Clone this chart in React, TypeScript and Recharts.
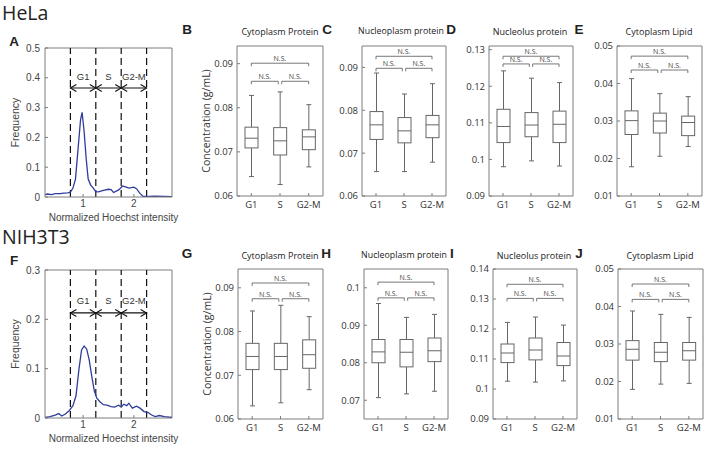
import React from "react"
import { Bar, ComposedChart, Line, ReferenceLine, Scatter, XAxis, YAxis } from "recharts"

// cell cycle gates on the Hoechst histogram
const hoechstGates = [0.75, 1.25, 1.75, 2.25]
const gateLabels = ["G1", "S", "G2-M"]

const helaHoechst = [0.25, 0.3, 0.38, 0.45, 0.55, 0.62, 0.7, 0.75, 0.8, 0.85, 0.9, 0.95, 0.98, 1.02, 1.06, 1.1, 1.15, 1.2, 1.25, 1.3, 1.4, 1.5, 1.55, 1.6, 1.7, 1.78, 1.85, 1.9, 2.0, 2.05, 2.12, 2.18, 2.3, 2.4, 2.6, 2.75]
const helaFreq = [0.008, 0.01, 0.008, 0.011, 0.011, 0.013, 0.014, 0.016, 0.03, 0.06, 0.16, 0.26, 0.284, 0.22, 0.13, 0.06, 0.04, 0.03, 0.018, 0.017, 0.022, 0.026, 0.025, 0.015, 0.024, 0.037, 0.033, 0.03, 0.033, 0.028, 0.012, 0.002, 0.002, 0.003, 0.002, 0.001]

const nihHoechst = [0.25, 0.35, 0.45, 0.52, 0.58, 0.65, 0.72, 0.8, 0.86, 0.92, 0.97, 1.02, 1.07, 1.12, 1.17, 1.22, 1.27, 1.33, 1.4, 1.47, 1.55, 1.62, 1.7, 1.75, 1.8, 1.86, 1.9, 1.97, 2.05, 2.12, 2.2, 2.28, 2.35, 2.42, 2.5, 2.6, 2.75]
const nihFreq = [0.001, 0.003, 0.006, 0.009, 0.004, 0.008, 0.014, 0.025, 0.045, 0.1, 0.138, 0.146, 0.14, 0.118, 0.085, 0.055, 0.04, 0.033, 0.027, 0.026, 0.023, 0.022, 0.026, 0.022, 0.028, 0.025, 0.03, 0.02, 0.024, 0.02, 0.013, 0.011, 0.006, 0.003, 0.005, 0.003, 0.001]

const phases = ["G1", "S", "G2-M"]

// [min, q1, median, q3, max] for G1, S, G2-M
const helaCytoProtein = [
  [0.0644, 0.0709, 0.0731, 0.0756, 0.0828],
  [0.0626, 0.0693, 0.0725, 0.0755, 0.0836],
  [0.0666, 0.0705, 0.0734, 0.075, 0.0807],
]
const helaNucleoProtein = [
  [0.0657, 0.0732, 0.0766, 0.0797, 0.0887],
  [0.0657, 0.0724, 0.0752, 0.0783, 0.0838],
  [0.0679, 0.0736, 0.0766, 0.0788, 0.0862],
]
const helaNucleolusProtein = [
  [0.098, 0.1046, 0.109, 0.1137, 0.1242],
  [0.0996, 0.1062, 0.1094, 0.1128, 0.1222],
  [0.0982, 0.1046, 0.1096, 0.1132, 0.121],
]
const helaCytoLipid = [
  [0.0178, 0.0264, 0.0301, 0.0327, 0.0413],
  [0.0206, 0.0268, 0.03, 0.0321, 0.0373],
  [0.0232, 0.0261, 0.0296, 0.0313, 0.0365],
]
const nihCytoProtein = [
  [0.063, 0.0713, 0.0743, 0.0773, 0.0847],
  [0.0637, 0.0713, 0.0743, 0.0773, 0.086],
  [0.0667, 0.0716, 0.0747, 0.0781, 0.0834],
]
const nihNucleoProtein = [
  [0.0707, 0.08, 0.0829, 0.0862, 0.0958],
  [0.0717, 0.0789, 0.0828, 0.0862, 0.0921],
  [0.0724, 0.0803, 0.0832, 0.0866, 0.0929],
]
const nihNucleolusProtein = [
  [0.1026, 0.1088, 0.112, 0.115, 0.1222],
  [0.1023, 0.1097, 0.113, 0.117, 0.124],
  [0.1027, 0.1078, 0.111, 0.1155, 0.1213],
]
const nihCytoLipid = [
  [0.0179, 0.0257, 0.0286, 0.0309, 0.0388],
  [0.0193, 0.0253, 0.0278, 0.0304, 0.0379],
  [0.0195, 0.0257, 0.0282, 0.0304, 0.0371],
]

// N.S. bracket levels: [G1 vs G2-M, neighbours]
const helaCytoProteinNS = [0.0901, 0.086]
const helaNucleoProteinNS = [0.0926, 0.0898]
const helaNucleolusProteinNS = [0.1282, 0.1261]
const helaCytoLipidNS = [0.0473, 0.0436]
const nihCytoProteinNS = [0.0911, 0.0875]
const nihNucleoProteinNS = [0.1015, 0.0973]
const nihNucleolusProteinNS = [0.1349, 0.1302]
const nihCytoLipidNS = [0.046, 0.0419]

const AXIS = "#7c7c7c"
const BOX = "#666"
const TXT = "#333"

const boxRange = (d: any) => (d && d.stats ? [d.stats[0], d.stats[4]] : null)

function BoxShape(props: any) {
  const { x, y, width, height, payload } = props
  if (!payload || !payload.stats) return <g />
  const [lo, q1, med, q3, hi] = payload.stats
  const top = Math.min(y, y + height)
  const bottom = Math.max(y, y + height)
  const py = (v: number) => bottom - ((v - lo) / (hi - lo)) * (bottom - top)
  const cx = x + width / 2
  return (
    <g stroke={BOX} strokeWidth={1} fill="none">
      <line x1={cx} x2={cx} y1={py(hi)} y2={py(q3)} />
      <line x1={cx} x2={cx} y1={py(q1)} y2={py(lo)} />
      <line x1={cx - 2.5} x2={cx + 2.5} y1={py(hi)} y2={py(hi)} />
      <line x1={cx - 2.5} x2={cx + 2.5} y1={py(lo)} y2={py(lo)} />
      <rect x={x} y={py(q3)} width={width} height={py(q1) - py(q3)} fill="#fff" />
      <line x1={x} x2={x + width} y1={py(med)} y2={py(med)} />
    </g>
  )
}

const BracketEnd = (props: any) => (
  <line x1={props.cx} x2={props.cx} y1={props.cy} y2={props.cy + 3} stroke="#555" strokeWidth={0.8} />
)

const NSText = (props: any) => (
  <text x={props.cx} y={props.cy - 2} textAnchor="middle" fontSize={7} fill="#444">
    N.S.
  </text>
)

const ArrowHead = (props: any) => {
  const { cx, cy, payload } = props
  const d = payload && payload.dir ? payload.dir : 1
  return (
    <polyline
      points={`${cx + d * 6},${cy - 3.5} ${cx},${cy} ${cx + d * 6},${cy + 3.5}`}
      fill="none"
      stroke="#111"
      strokeWidth={1.1}
    />
  )
}

const PhaseLabel = (props: any) => (
  <text x={props.cx} y={props.cy} textAnchor="middle" dominantBaseline="central" fontSize={9.5} fill="#333">
    {props.payload ? props.payload.name : ""}
  </text>
)

function Label({ text, x, y, size, bold, anchor }: any) {
  return (
    <div
      style={{
        position: "absolute",
        left: x,
        top: y,
        transform: anchor === "left" ? "translate(0,-50%)" : "translate(-50%,-50%)",
        fontSize: size,
        lineHeight: `${size + 4}px`,
        fontWeight: bold ? 700 : 400,
        fontFamily: bold ? "Liberation Sans, Arial, sans-serif" : "Open Sans, sans-serif",
        color: "#222",
        whiteSpace: "nowrap",
      }}
    >
      {text}
    </div>
  )
}

function HistPanel({ xs, ys, yMax, yTicks, arrowY, labelY, left, top, width, height }: any) {
  const YW = 45
  const XH = 26
  const MT = 8
  const MR = 14
  const rows = xs.map((x: number, i: number) => ({ x, y: ys[i] }))
  const heads: any[] = []
  for (let i = 0; i < gateLabels.length; i++) {
    heads.push({ x: hoechstGates[i], y: arrowY, dir: 1 })
    heads.push({ x: hoechstGates[i + 1], y: arrowY, dir: -1 })
  }
  const names = gateLabels.map((name, i) => ({
    x: (hoechstGates[i] + hoechstGates[i + 1]) / 2,
    y: labelY,
    name,
  }))
  return (
    <div style={{ position: "absolute", left: left - YW, top: top - MT, fontFamily: "Liberation Sans, Arial, sans-serif" }}>
      <ComposedChart width={YW + width + MR} height={MT + height + XH} data={rows} margin={{ top: MT, right: MR, bottom: 0, left: 0 }}>
        <XAxis
          dataKey="x"
          type="number"
          domain={[0.25, 2.75]}
          ticks={[1, 2]}
          allowDataOverflow
          height={XH}
          stroke={AXIS}
          tickSize={-3}
          tickMargin={6}
          tick={{ fontSize: 10, fill: "#444" }}
          label={{ value: "Normalized Hoechst intensity", position: "insideBottom", offset: 2, dx: 5, fontSize: 10, fill: "#444" }}
        />
        <YAxis
          type="number"
          domain={[0, yMax]}
          ticks={yTicks}
          allowDataOverflow
          width={YW}
          stroke={AXIS}
          tickSize={-3}
          tickMargin={8}
          tick={{ fontSize: 10, fill: "#444" }}
          label={{ value: "Frequency", angle: -90, position: "insideLeft", offset: 15, fontSize: 10.5, fill: "#444", style: { textAnchor: "middle" } }}
        />
        <ReferenceLine y={yMax} stroke={AXIS} ifOverflow="visible" />
        <ReferenceLine x={2.75} stroke={AXIS} ifOverflow="visible" />
        {hoechstGates.map((g) => (
          <ReferenceLine key={g} x={g} stroke="#111" strokeWidth={1.2} strokeDasharray="7 4" />
        ))}
        <ReferenceLine segment={[{ x: hoechstGates[0], y: arrowY }, { x: hoechstGates[3], y: arrowY }]} stroke="#111" strokeWidth={1.1} />
        <Scatter data={heads} dataKey="y" shape={ArrowHead} isAnimationActive={false} />
        <Scatter data={names} dataKey="y" shape={PhaseLabel} isAnimationActive={false} />
        <Line dataKey="y" type="linear" stroke="#2e3d9c" strokeWidth={1.3} dot={false} isAnimationActive={false} />
      </ComposedChart>
    </div>
  )
}

function BoxPanel({ stats, ns, domain, ticks, left, top, width, height, yLabel }: any) {
  const YW = 46
  const XH = 22
  const MT = 8
  const MR = 4
  const data = phases.map((phase, i) => ({ phase, stats: stats[i] }))
  const [bigY, smallY] = ns
  const lineStyle = { stroke: "#555", strokeWidth: 0.8 }
  return (
    <div style={{ position: "absolute", left: left - YW, top: top - MT, fontFamily: "Open Sans, sans-serif" }}>
      <ComposedChart width={YW + width + MR} height={MT + height + XH} data={data} margin={{ top: MT, right: MR, bottom: 0, left: 0 }}>
        <XAxis dataKey="phase" type="category" interval={0} height={XH} stroke={AXIS} tickSize={-3} tickMargin={8} tick={{ fontSize: 9.5, fill: TXT }} />
        <XAxis xAxisId="num" dataKey="x" type="number" domain={[0.5, 3.5]} allowDataOverflow hide />
        <YAxis
          type="number"
          domain={domain}
          ticks={ticks}
          allowDataOverflow
          width={YW}
          stroke={AXIS}
          tickSize={-3}
          tickMargin={7}
          tick={{ fontSize: 9.5, fill: TXT }}
          label={
            yLabel
              ? { value: "Concentration (g/mL)", angle: -90, position: "insideLeft", offset: 15, fontSize: 10.5, fill: TXT, style: { textAnchor: "middle" } }
              : undefined
          }
        />
        <ReferenceLine y={domain[1]} stroke={AXIS} ifOverflow="visible" />
        <ReferenceLine xAxisId="num" x={3.5} stroke={AXIS} ifOverflow="visible" />
        <Bar dataKey={boxRange} barSize={13} shape={BoxShape} isAnimationActive={false} />
        <Scatter xAxisId="num" data={[{ x: 1, y: bigY }, { x: 3, y: bigY }]} dataKey="y" line={lineStyle} shape={BracketEnd} isAnimationActive={false} />
        <Scatter xAxisId="num" data={[{ x: 1, y: smallY }, { x: 1.94, y: smallY }]} dataKey="y" line={lineStyle} shape={BracketEnd} isAnimationActive={false} />
        <Scatter xAxisId="num" data={[{ x: 2.06, y: smallY }, { x: 3, y: smallY }]} dataKey="y" line={lineStyle} shape={BracketEnd} isAnimationActive={false} />
        <Scatter xAxisId="num" data={[{ x: 2, y: bigY }, { x: 1.47, y: smallY }, { x: 2.53, y: smallY }]} dataKey="y" shape={NSText} isAnimationActive={false} />
      </ComposedChart>
    </div>
  )
}

export default function App() {
  return (
    <div style={{ position: "absolute", left: 0, top: 0, width: 708, height: 449, background: "#fff", overflow: "hidden" }}>
      <Label text="HeLa" x={2} y={13} size={19.5} anchor="left" />
      <Label text="NIH3T3" x={2} y={237} size={19.5} anchor="left" />
      <Label text="A" x={14} y={42} size={13.5} bold />
      <Label text="F" x={14} y={261} size={13.5} bold />
      <Label text="B" x={187} y={30} size={13.5} bold />
      <Label text="C" x={327} y={30} size={13.5} bold />
      <Label text="D" x={451} y={30} size={13.5} bold />
      <Label text="E" x={579} y={30} size={13.5} bold />
      <Label text="G" x={187} y={254} size={13.5} bold />
      <Label text="H" x={326} y={254} size={13.5} bold />
      <Label text="I" x={452} y={254} size={13.5} bold />
      <Label text="J" x={579} y={254} size={13.5} bold />

      <Label text="Cytoplasm Protein" x={280} y={31} size={9} />
      <Label text="Nucleoplasm protein" x={401} y={31} size={8.8} />
      <Label text="Nucleolus protein" x={530} y={31} size={9} />
      <Label text="Cytoplasm Lipid" x={659} y={31} size={9} />
      <Label text="Cytoplasm Protein" x={280} y={255} size={9} />
      <Label text="Nucleoplasm protein" x={404} y={255} size={8.8} />
      <Label text="Nucleolus protein" x={534} y={255} size={9} />
      <Label text="Cytoplasm Lipid" x={660} y={255} size={9} />

      <HistPanel xs={helaHoechst} ys={helaFreq} yMax={0.5} yTicks={[0, 0.1, 0.2, 0.3, 0.4, 0.5]} arrowY={0.366} labelY={0.406} left={45} top={48} width={127} height={149} />
      <HistPanel xs={nihHoechst} ys={nihFreq} yMax={0.3} yTicks={[0, 0.1, 0.2, 0.3]} arrowY={0.213} labelY={0.2386} left={45} top={270} width={127} height={148} />

      <BoxPanel stats={helaCytoProtein} ns={helaCytoProteinNS} domain={[0.06, 0.094]} ticks={[0.06, 0.07, 0.08, 0.09]} left={237} top={46} width={86} height={150} yLabel />
      <BoxPanel stats={helaNucleoProtein} ns={helaNucleoProteinNS} domain={[0.06, 0.095]} ticks={[0.06, 0.07, 0.08, 0.09]} left={362} top={46} width={84} height={150} />
      <BoxPanel stats={helaNucleolusProtein} ns={helaNucleolusProteinNS} domain={[0.09, 0.131]} ticks={[0.09, 0.1, 0.11, 0.12, 0.13]} left={489} top={46} width={84} height={150} />
      <BoxPanel stats={helaCytoLipid} ns={helaCytoLipidNS} domain={[0.01, 0.05]} ticks={[0.01, 0.02, 0.03, 0.04, 0.05]} left={617} top={46} width={85} height={150} />

      <BoxPanel stats={nihCytoProtein} ns={nihCytoProteinNS} domain={[0.06, 0.0943]} ticks={[0.06, 0.07, 0.08, 0.09]} left={238} top={269} width={85} height={150} yLabel />
      <BoxPanel stats={nihNucleoProtein} ns={nihNucleoProteinNS} domain={[0.065, 0.105]} ticks={[0.07, 0.08, 0.09, 0.1]} left={364} top={269} width={84} height={150} />
      <BoxPanel stats={nihNucleolusProtein} ns={nihNucleolusProteinNS} domain={[0.09, 0.14]} ticks={[0.09, 0.1, 0.11, 0.12, 0.13, 0.14]} left={493} top={269} width={84} height={150} />
      <BoxPanel stats={nihCytoLipid} ns={nihCytoLipidNS} domain={[0.01, 0.05]} ticks={[0.01, 0.02, 0.03, 0.04, 0.05]} left={618} top={269} width={85} height={150} />
    </div>
  )
}
